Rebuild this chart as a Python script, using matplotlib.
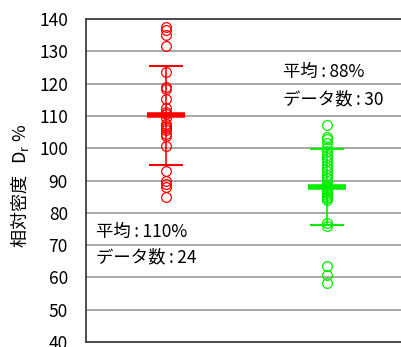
import matplotlib
matplotlib.use("Agg")
import matplotlib.pyplot as plt

plt.rcParams['font.family'] = ['Noto Sans CJK JP', 'DejaVu Sans']

# values
red_vals = [137.6, 136.6, 135.0, 131.7, 123.7, 119.0, 118.3, 115.3, 112.4, 111.3,
            110.5, 109.5, 107.5, 106.9, 106.2, 105.5, 104.5, 103.9, 100.8, 93.0,
            89.7, 89.0, 88.0, 85.0]
green_vals = [107.2, 103.6, 102.8, 101.7, 100.0, 99.0, 98.0, 96.9, 95.9, 94.8,
              93.8, 92.8, 91.7, 90.7, 89.7, 88.5, 88.0, 87.5, 87.1, 86.5,
              86.1, 85.5, 85.0, 84.5, 83.9, 76.8, 75.8, 63.4, 60.6, 58.2]
means = [110.2, 88.0]
stds = [15.3, 11.7]
colors = ["#ff0000", "#00ee00"]
notes = [("平均\u2009:\u2009110%", "データ数\u2009:\u200924"),
         ("平均\u2009:\u200988%", "データ数\u2009:\u200930")]
yticks = list(range(40, 141, 10))

fig = plt.figure(figsize=(4.01, 3.47), dpi=100)
ax = fig.add_axes([86/401, 5/347, 1 - 86/401, 323/347])

for i, vals in enumerate([red_vals, green_vals]):
    x = i + 1
    c = colors[i]
    ax.plot([x]*len(vals), vals, "o", mfc="none", mec=c, ms=7, mew=0.9, zorder=3)
    ax.errorbar(x, means[i], yerr=stds[i], color=c, lw=1.2, capsize=12,
                capthick=1.5, zorder=4)
    ax.plot(x, means[i], marker="_", color=c, ms=27, mew=4, zorder=5)

ax.text(0.565, 74.1, notes[0][0], fontsize=12.5, va="center")
ax.text(0.565, 66.1, notes[0][1], fontsize=12.5, va="center")
ax.text(1.725, 123.7, notes[1][0], fontsize=12.5, va="center")
ax.text(1.725, 115.0, notes[1][1], fontsize=12.5, va="center")

ax.set_xlim(0.5, 2.457)
ax.set_ylim(40, 140)
ax.set_yticks(yticks)
ax.set_xticks([])
ax.tick_params(axis="y", length=0, pad=13, labelsize=12.5)
ax.grid(axis="y", color="#a0a0a0", lw=1.3)
ax.set_axisbelow(True)
ax.spines["right"].set_visible(False)
for s in ["left", "bottom", "top"]:
    ax.spines[s].set_color("#404040")
    ax.spines[s].set_linewidth(1.3)

fig.text(20/401, 1 - 186/347, "相対密度   D$_\\mathregular{r}$ %", rotation=90,
         fontsize=13, ha="center", va="center")

fig.savefig("out.png", dpi=100)
